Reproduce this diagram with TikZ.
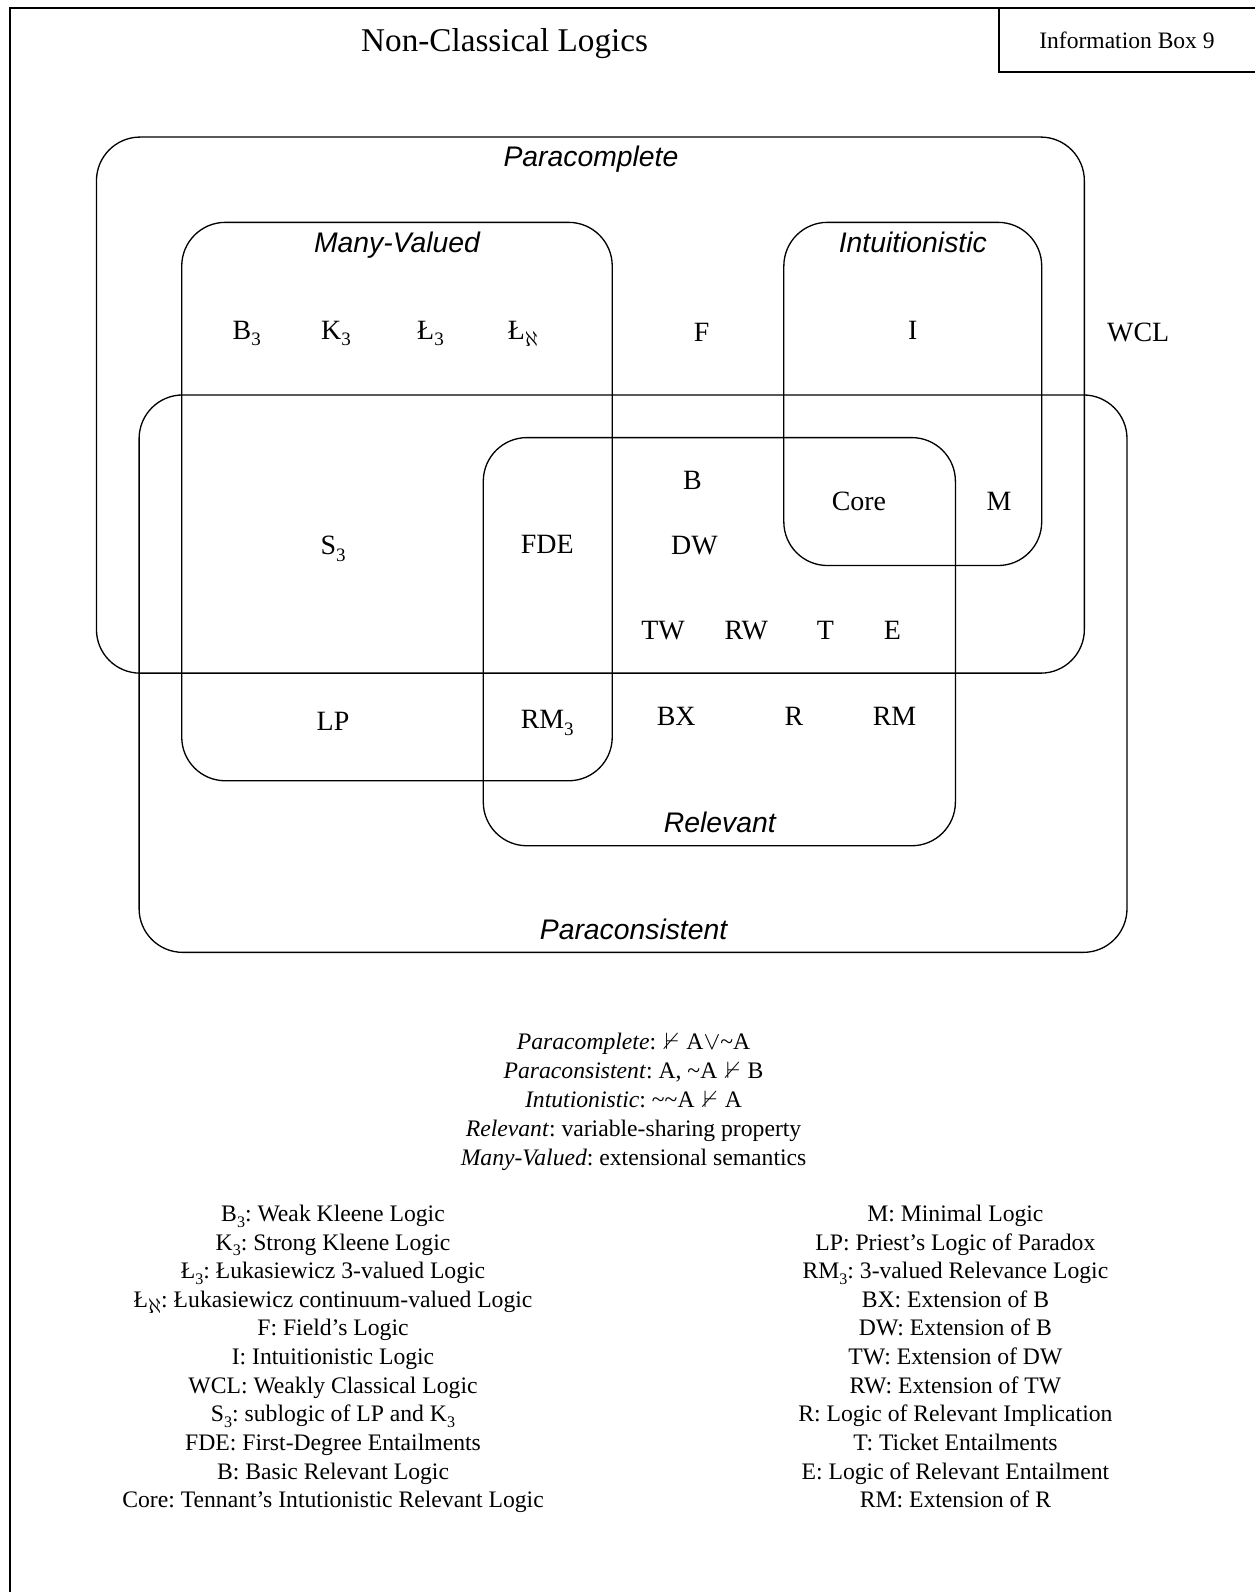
\documentclass[tikz,border=0pt]{standalone}
\usepackage{fontspec}
\usepackage{amssymb}
\setmainfont{Liberation Serif}
\newfontfamily\setsans{Liberation Sans}
% lowered, reduced index as used in the logic names
\newcommand{\sbs}[1]{\raisebox{-0.24em}{\scalebox{0.68}{#1}}}
\newcommand{\Laleph}{Ł\raisebox{-0.26em}{\scalebox{0.85}{$\aleph$}}}
\newcommand{\nentails}{\mbox{\hspace{0.12em}$\nvdash$\hspace{0.05em}}}
\newcommand{\tld}{\textasciitilde}
\frenchspacing

\begin{document}
\begin{tikzpicture}[x=1pt,y=-1pt,
  frame/.style={line width=1.8pt, line cap=rect},
  setbox/.style={draw, line width=1.3pt, rounded corners=43pt},
  title/.style={font=\fontsize{32.7}{36}\selectfont, anchor=base, inner sep=0pt},
  boxtext/.style={font=\fontsize{23.2}{26}\selectfont, anchor=base, inner sep=0pt},
  logic/.style={font=\fontsize{27.5}{30}\selectfont, anchor=base, inner sep=0pt},
  setname/.style={font=\setsans\itshape\fontsize{27.9}{30}\selectfont, anchor=base, inner sep=0pt},
  legend/.style={font=\fontsize{23.3}{26}\selectfont, anchor=base, inner sep=0pt},
]
\useasboundingbox (0,0) rectangle (1236,1568);

% page frame and header box
\draw[frame] (10,1580) -- (10,8) -- (1245,8);
\draw[frame] (984,8) -- (984,71) -- (1245,71);
\node[title]   (title)   at (497,51) {Non-Classical Logics};
\node[boxtext] (infobox) at (1110,48) {Information Box 9};

% the five classes of logics
\draw[setbox] (95,135)  rectangle (1068,663);  % paracomplete
\draw[setbox] (179,219) rectangle (603,769);   % many-valued
\draw[setbox] (772,219) rectangle (1026,557);  % intuitionistic
\draw[setbox] (137,389) rectangle (1110,938);  % paraconsistent
\draw[setbox] (476,431) rectangle (941,833);   % relevant

\node[setname] (pcname)  at (582,163.5) {Paracomplete};
\node[setname] (mvname)  at (391,248.5) {Many-Valued};
\node[setname] (inname)  at (899,248.5) {Intuitionistic};
\node[setname] (rlname)  at (709,819.5) {Relevant};
\node[setname] (pnname)  at (624,925)   {Paraconsistent};

% individual logics
\node[logic] (B3)   at (243,334) {B\sbs{3}};
\node[logic] (K3)   at (331,334) {K\sbs{3}};
\node[logic] (L3)   at (424,334) {Ł\sbs{3}};
\node[logic] (Lal)  at (515,334) {\Laleph};
\node[logic] (F)    at (691,336) {F};
\node[logic] (I)    at (899,334) {I};
\node[logic] (WCL)  at (1121,336) {WCL};
\node[logic] (B)    at (682,482) {B};
\node[logic] (Core) at (846,503) {Core};
\node[logic] (M)    at (984,503) {M};
\node[logic] (S3)   at (328,546) {S\sbs{3}};
\node[logic] (FDE)  at (539,545) {FDE};
\node[logic] (DW)   at (684,546) {DW};
\node[logic] (TW)   at (653,630) {TW};
\node[logic] (RW)   at (735,630) {RW};
\node[logic] (T)    at (813,630) {T};
\node[logic] (E)    at (879,630) {E};
\node[logic] (LP)   at (328,719) {LP};
\node[logic] (RM3)  at (539,718) {RM\sbs{3}};
\node[logic] (BX)   at (666,715) {BX};
\node[logic] (R)    at (782,715) {R};
\node[logic] (RM)   at (881,715) {RM};

% defining properties
\node[legend] (dPC) at (624,1034) {\textit{Paracomplete}: \nentails{} A$\vee$\tld A};
\node[legend] (dPN) at (624,1062.5) {\textit{Paraconsistent}: A, \tld A \nentails{} B};
\node[legend] (dIN) at (624,1091) {\textit{Intutionistic}: \tld\tld A \nentails{} A};
\node[legend] (dRL) at (624,1119.5) {\textit{Relevant}: variable-sharing property};
\node[legend] (dMV) at (624,1148) {\textit{Many-Valued}: extensional semantics};

% key to the abbreviations, left column
\node[legend] (kB3)   at (328,1203)   {B\sbs{3}: Weak Kleene Logic};
\node[legend] (kK3)   at (328,1231.2) {K\sbs{3}: Strong Kleene Logic};
\node[legend] (kL3)   at (328,1259.4) {Ł\sbs{3}: Łukasiewicz 3-valued Logic};
\node[legend] (kLal)  at (328,1287.6) {\Laleph: Łukasiewicz continuum-valued Logic};
\node[legend] (kF)    at (328,1315.8) {F: Field’s Logic};
\node[legend] (kI)    at (328,1344)   {I: Intuitionistic Logic};
\node[legend] (kWCL)  at (328,1372.2) {WCL: Weakly Classical Logic};
\node[legend] (kS3)   at (328,1400.4) {S\sbs{3}: sublogic of LP and K\sbs{3}};
\node[legend] (kFDE)  at (328,1428.6) {FDE: First-Degree Entailments};
\node[legend] (kB)    at (328,1456.8) {B: Basic Relevant Logic};
\node[legend] (kCore) at (328,1485)   {Core: Tennant’s Intutionistic Relevant Logic};

% key to the abbreviations, right column
\node[legend] (kM)   at (941,1203)   {M: Minimal Logic};
\node[legend] (kLP)  at (941,1231.2) {LP: Priest’s Logic of Paradox};
\node[legend] (kRM3) at (941,1259.4) {RM\sbs{3}: 3-valued Relevance Logic};
\node[legend] (kBX)  at (941,1287.6) {BX: Extension of B};
\node[legend] (kDW)  at (941,1315.8) {DW: Extension of B};
\node[legend] (kTW)  at (941,1344)   {TW: Extension of DW};
\node[legend] (kRW)  at (941,1372.2) {RW: Extension of TW};
\node[legend] (kR)   at (941,1400.4) {R: Logic of Relevant Implication};
\node[legend] (kT)   at (941,1428.6) {T: Ticket Entailments};
\node[legend] (kE)   at (941,1456.8) {E: Logic of Relevant Entailment};
\node[legend] (kRM)  at (941,1485)   {RM: Extension of R};
\end{tikzpicture}
\end{document}
